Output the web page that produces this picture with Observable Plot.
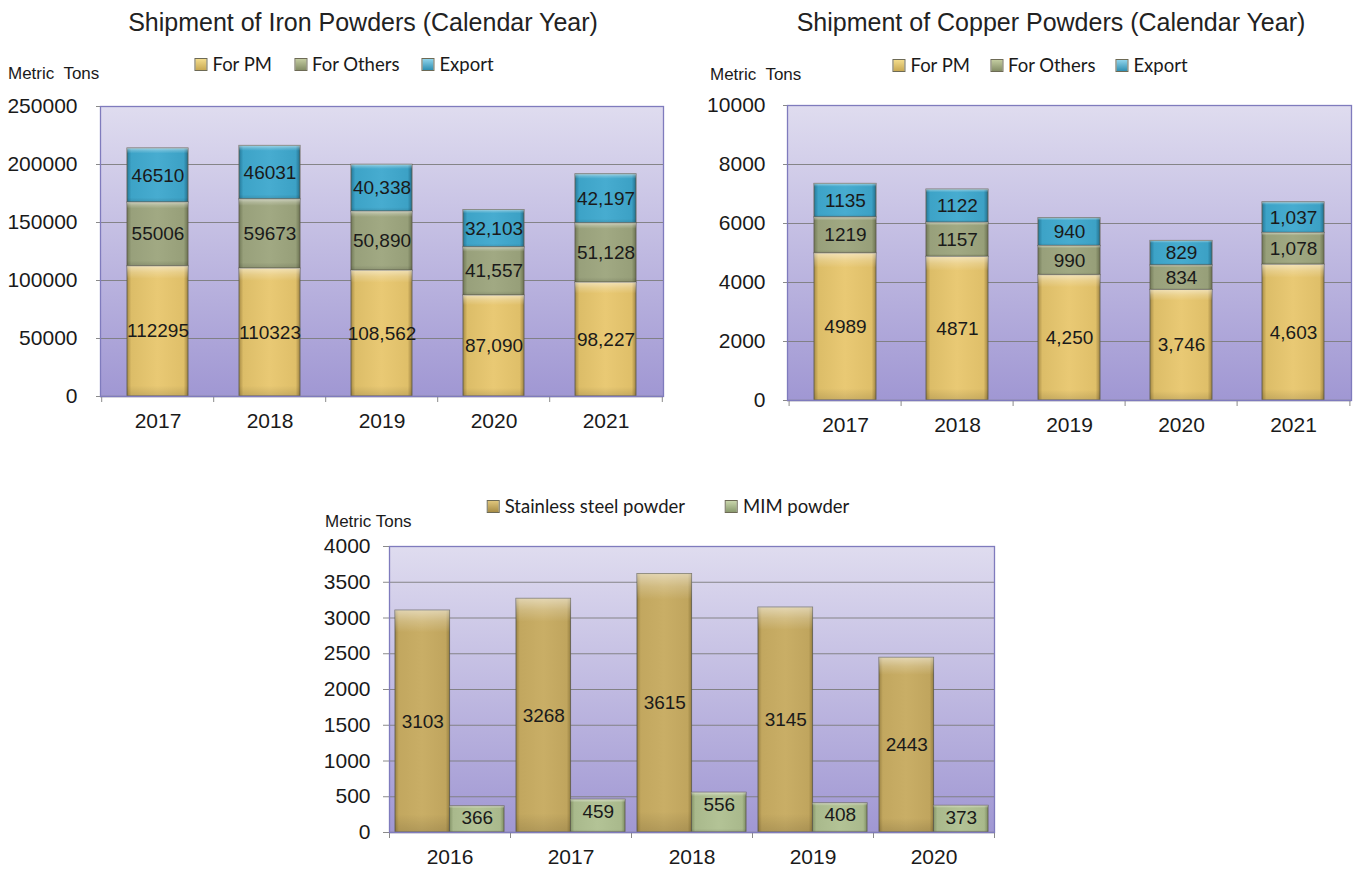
<!DOCTYPE html>
<html><head><meta charset="utf-8">
<script src="https://cdn.jsdelivr.net/npm/d3@7"></script>
<script src="https://cdn.jsdelivr.net/npm/@observablehq/plot@0.6"></script>
<style>
body{margin:0;background:#fff;width:1358px;height:869px;position:relative;overflow:hidden;font-family:"Liberation Sans",Arial,sans-serif;color:#1a1a1a}
.abs{position:absolute;white-space:nowrap}
.title{font-size:25px;transform:translate(-50%,-50%);color:#222}
.unit{font-size:17px;transform:translateY(-50%)}
.legend{display:flex;align-items:center;font-family:Lato,sans-serif;font-size:18.5px;transform:translate(-50%,-50%)}
.legend .item{display:flex;align-items:center}
.legend .sw{width:11px;height:11px;margin-right:5px;border:1px solid #6d6a55}
svg{overflow:visible}
</style></head><body>
<script>
// ---------- data ----------
const ironYears = ["2017","2018","2019","2020","2021"];
const ironPM = [112295,110323,108562,87090,98227];
const ironOthers = [55006,59673,50890,41557,51128];
const ironExport = [46510,46031,40338,32103,42197];
const ironTicks = [0,50000,100000,150000,200000,250000];

const copperYears = ["2017","2018","2019","2020","2021"];
const copperPM = [4989,4871,4250,3746,4603];
const copperOthers = [1219,1157,990,834,1078];
const copperExport = [1135,1122,940,829,1037];
const copperTicks = [0,2000,4000,6000,8000,10000];

const steelYears = ["2016","2017","2018","2019","2020"];
const stainless = [3103,3268,3615,3145,2443];
const mim = [366,459,556,408,373];
const steelTicks = [0,500,1000,1500,2000,2500,3000,3500,4000];

const stackSeries = ["For PM","For Others","Export"];
const groupSeries = ["Stainless steel powder","MIM powder"];
const commaYears = new Set(["2019","2020","2021"]);

// ---------- helpers ----------
const seriesKey = {"For PM":"pm","For Others":"oth","Export":"exp","Stainless steel powder":"st","MIM powder":"mim"};
const swatchCss = {
  pm:"linear-gradient(#f3dc8c,#c9a953)", oth:"linear-gradient(#c3cca0,#848d66)", exp:"linear-gradient(#8fd3ea,#2f8fb2)",
  st:"linear-gradient(#e0c67c,#a88d46)", mim:"linear-gradient(#c9d6ac,#8a9a6e)"
};

function addDefs(svg, p) {
  const defs = d3.select(svg).insert("defs", ":first-child");
  const grad = (id, stops, vertical) => {
    const g = defs.append("linearGradient").attr("id", p + id)
      .attr("x1", 0).attr("y1", 0).attr("x2", vertical ? 0 : 1).attr("y2", vertical ? 1 : 0);
    stops.forEach(([o, c, op]) => g.append("stop").attr("offset", o).attr("stop-color", c).attr("stop-opacity", op ?? 1));
  };
  grad("bg", [[0,"#dfdcef"],[1,"#a097d3"]], true);
  grad("pm", [[0,"#a88c45"],[0.07,"#dcbd68"],[0.5,"#e9c974"],[0.93,"#dfbf69"],[1,"#a08442"]]);
  grad("oth", [[0,"#727a58"],[0.07,"#98a07b"],[0.5,"#a1a983"],[0.93,"#979f79"],[1,"#6c7352"]]);
  grad("exp", [[0,"#25799a"],[0.07,"#3da3c7"],[0.5,"#47acd0"],[0.93,"#3ca1c5"],[1,"#236f8d"]]);
  grad("st", [[0,"#9c8444"],[0.07,"#c2a75f"],[0.5,"#c9ae66"],[0.93,"#c0a55e"],[1,"#978041"]]);
  grad("mim", [[0,"#849468"],[0.07,"#a9b98c"],[0.5,"#b3c396"],[0.93,"#a9b98c"],[1,"#7f8f64"]]);
  grad("hl", [[0,"#ffffff",0.5],[0.05,"#ffffff",0.2],[0.1,"#ffffff",0],[0.92,"#000000",0],[1,"#000000",0.12]], true);
}

function addText(cls, text, x, y, extra) {
  const d = document.createElement("div");
  d.className = "abs " + cls;
  d.textContent = text;
  d.style.left = x + "px"; d.style.top = y + "px";
  if (extra) Object.assign(d.style, extra);
  document.body.appendChild(d);
  return d;
}

function addLegend(names, cx, cy, gap) {
  const d = document.createElement("div");
  d.className = "abs legend";
  d.style.left = cx + "px"; d.style.top = cy + "px"; d.style.gap = gap + "px";
  names.forEach(n => {
    const it = document.createElement("div"); it.className = "item";
    const sw = document.createElement("div"); sw.className = "sw"; sw.style.background = swatchCss[seriesKey[n]];
    const t = document.createElement("span"); t.textContent = n;
    it.appendChild(sw); it.appendChild(t); d.appendChild(it);
  });
  document.body.appendChild(d);
}

function place(svg, left, top) {
  const wrap = document.createElement("div");
  wrap.className = "abs"; wrap.style.left = left + "px"; wrap.style.top = top + "px";
  wrap.appendChild(svg); document.body.appendChild(wrap);
}

function stackedChart(o) {
  const rows = o.years.flatMap((y, i) => stackSeries.map((s, j) => ({year: y, series: s, value: o.values[j][i]})));
  const step = o.plotW / o.years.length;
  const fmt = d => commaYears.has(d.year) ? d3.format(",")(d.value) : String(d.value);
  const fill = d => `url(#${o.p}${seriesKey[d.series]})`;
  const svg = Plot.plot({
    width: o.marginLeft + o.plotW + o.marginRight,
    height: o.marginTop + o.plotH + o.marginBottom,
    marginLeft: o.marginLeft, marginRight: o.marginRight, marginTop: o.marginTop, marginBottom: o.marginBottom,
    style: {fontFamily: '"Liberation Sans", Arial, sans-serif', color: "#1a1a1a", background: "transparent", overflow: "visible"},
    x: {domain: o.years, paddingInner: o.padIn, paddingOuter: o.padIn / 2, axis: null},
    y: {domain: [0, o.ticks[o.ticks.length - 1]], axis: null},
    color: {type: "identity"},
    marks: [
      Plot.frame({fill: `url(#${o.p}bg)`}),
      Plot.gridY(o.ticks.slice(1, -1), {stroke: "#7c7c7c", strokeOpacity: 0.9}),
      Plot.axisY(o.ticks, {tickSize: o.tickSize, tickPadding: o.tickPad, stroke: "#8a8a8a", fill: "#1a1a1a", fontSize: 21, tickFormat: d => String(d), label: null}),
      Plot.axisX({tickSize: 0, tickPadding: 17, fontSize: 21, fill: "#1a1a1a", label: null}),
      Plot.barY(rows, {x: "year", y: "value", z: "series", fill, stroke: "#5e5c4c", strokeWidth: 1, strokeOpacity: 0.85}),
      Plot.barY(rows, {x: "year", y: "value", z: "series", fill: `url(#${o.p}hl)`}),
      Plot.text(rows, Plot.stackY({x: "year", y: "value", z: "series", text: fmt, fontSize: 19, fill: "#1a1a1a"})),
      Plot.ruleY([0], {stroke: "#8a8a8a", strokeWidth: 1.3}),
      Plot.ruleX(o.years, {x: d => d, y1: 0, y2: 0, dx: -step / 2, insetBottom: -6, stroke: "#8a8a8a"}),
      Plot.ruleX(o.years.slice(-1), {x: d => d, y1: 0, y2: 0, dx: step / 2, insetBottom: -6, stroke: "#8a8a8a"}),
      Plot.frame({stroke: "#7f7bbd", strokeWidth: 1.3})
    ]
  });
  addDefs(svg, o.p);
  place(svg, o.left, o.top);
}

// ---------- chart 1: iron ----------
addText("title", "Shipment of Iron Powders (Calendar Year)", 363, 22);
addLegend(stackSeries, 344, 64, 22);
addText("unit", "Metric  Tons", 8, 74, {whiteSpace: "pre"});
stackedChart({p: "i-", years: ironYears, values: [ironPM, ironOthers, ironExport], ticks: ironTicks,
  left: 0, top: 90, marginLeft: 100, plotW: 563, marginRight: 11, marginTop: 16, plotH: 290, marginBottom: 44,
  padIn: 0.455, tickSize: 4, tickPad: 19});

// ---------- chart 2: copper ----------
addText("title", "Shipment of Copper Powders (Calendar Year)", 1051, 22);
addLegend(stackSeries, 1040, 65, 20);
addText("unit", "Metric  Tons", 710, 75, {whiteSpace: "pre"});
stackedChart({p: "c-", years: copperYears, values: [copperPM, copperOthers, copperExport], ticks: copperTicks,
  left: 680, top: 90, marginLeft: 107, plotW: 564, marginRight: 7, marginTop: 15, plotH: 295, marginBottom: 44,
  padIn: 0.45, tickSize: 4, tickPad: 18});

// ---------- chart 3: stainless / MIM ----------
addLegend(groupSeries, 668, 506, 40);
addText("unit", "Metric Tons", 325, 522);
(function () {
  const p = "s-";
  const stRows = steelYears.map((y, i) => ({year: y, series: groupSeries[0], value: stainless[i]}));
  const mimRows = steelYears.map((y, i) => ({year: y, series: groupSeries[1], value: mim[i]}));
  const marginLeft = 189, plotW = 605, marginRight = 20, marginTop = 16, plotH = 286, marginBottom = 37;
  const step = plotW / steelYears.length;
  const padIn = 0.1;
  const bw = step * (1 - padIn);
  const half = bw / 2;
  const svg = Plot.plot({
    width: marginLeft + plotW + marginRight, height: marginTop + plotH + marginBottom,
    marginLeft, marginRight, marginTop, marginBottom,
    style: {fontFamily: '"Liberation Sans", Arial, sans-serif', color: "#1a1a1a", background: "transparent", overflow: "visible"},
    x: {domain: steelYears, paddingInner: padIn, paddingOuter: padIn / 2, axis: null},
    y: {domain: [0, steelTicks[steelTicks.length - 1]], axis: null},
    marks: [
      Plot.frame({fill: `url(#${p}bg)`}),
      Plot.gridY(steelTicks.slice(1, -1), {stroke: "#7c7c7c", strokeOpacity: 0.9}),
      Plot.axisY(steelTicks, {tickSize: 6, tickPadding: 13, stroke: "#8a8a8a", fill: "#1a1a1a", fontSize: 21, tickFormat: d => String(d), label: null}),
      Plot.axisX({tickSize: 0, tickPadding: 17, fontSize: 21, fill: "#1a1a1a", label: null}),
      Plot.barY(stRows, {x: "year", y: "value", insetRight: half, fill: `url(#${p}st)`, stroke: "#5e5c4c", strokeOpacity: 0.85}),
      Plot.barY(stRows, {x: "year", y: "value", insetRight: half, fill: `url(#${p}hl)`}),
      Plot.barY(mimRows, {x: "year", y: "value", insetLeft: half, fill: `url(#${p}mim)`, stroke: "#5e5c4c", strokeOpacity: 0.85}),
      Plot.barY(mimRows, {x: "year", y: "value", insetLeft: half, fill: `url(#${p}hl)`}),
      Plot.text(stRows, Plot.stackY({x: "year", y: "value", text: d => String(d.value), dx: -half / 2, fontSize: 19, fill: "#1a1a1a"})),
      Plot.text(mimRows, {x: "year", y: "value", text: d => String(d.value), dx: half / 2, dy: 12, fontSize: 19, fill: "#1a1a1a"}),
      Plot.ruleY([0], {stroke: "#8a8a8a", strokeWidth: 1.3}),
      Plot.ruleX(steelYears, {x: d => d, y1: 0, y2: 0, dx: -step / 2, insetBottom: -6, stroke: "#8a8a8a"}),
      Plot.ruleX(steelYears.slice(-1), {x: d => d, y1: 0, y2: 0, dx: step / 2, insetBottom: -6, stroke: "#8a8a8a"}),
      Plot.frame({stroke: "#7f7bbd", strokeWidth: 1.3})
    ]
  });
  addDefs(svg, p);
  place(svg, 200, 530);
})();
</script>
</body></html>
